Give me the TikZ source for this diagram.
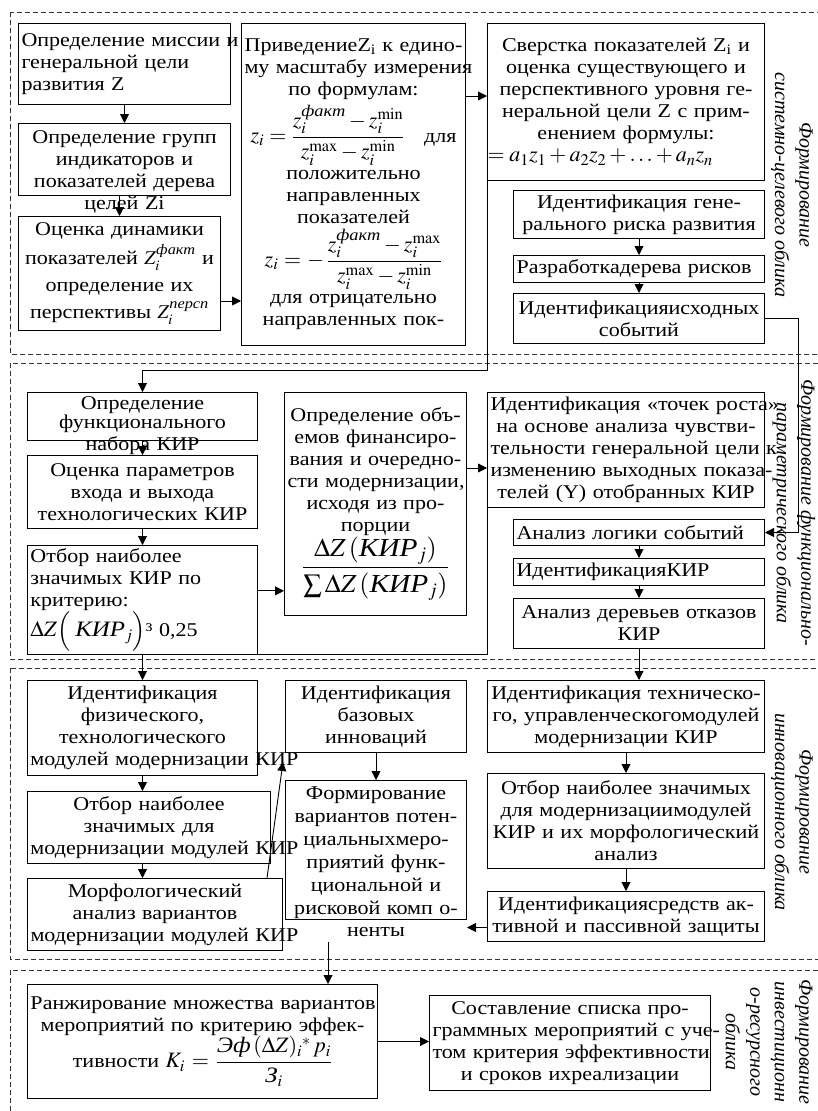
\documentclass[tikz,border=0pt]{standalone}
\usepackage{amsmath}
\usepackage{mathptmx}
\usepackage[no-math]{fontspec}
\setmainfont{Liberation Serif}[FakeStretch=1.13]
\newfontfamily\sidefam{Liberation Serif}
\usetikzlibrary{arrows.meta}

\newcommand\boxfont{\fontsize{19.5}{22}\selectfont\exhyphenpenalty=10000 \hyphenpenalty=10000 }
\newcommand\sidefont{\sidefam\fontsize{20}{24.5}\selectfont\itshape}
\newcommand\bigmath{\fontsize{22}{24}\selectfont}

\tikzset{
  blk/.style={draw, line width=1pt, inner sep=3pt, align=center, anchor=north west, font=\boxfont},
  arr/.style={line width=0.9pt, -{Triangle[length=9pt,width=9pt]}},
  zone/.style={line width=0.8pt, black!80, dash pattern=on 5pt off 3pt},
  side/.style={rotate=-90, align=center, font=\sidefont},
}

\begin{document}
\begin{tikzpicture}[x=1pt, y=-1pt]
  \useasboundingbox (0,0) rectangle (818,1111);
  \clip (0,0) rectangle (818,1111);

  % zones
  \draw[zone] (10,12) rectangle (830,354);
  \draw[zone] (10,363) rectangle (830,659);
  \draw[zone] (10,668) rectangle (830,959);
  \draw[zone] (10,970) rectangle (830,1130);

  % zone 1
  \node[blk, align=left, text width=206pt, minimum height=81pt] (mis) at (18,23)
    {Определение~миссии~и\\генеральной~цели\\развития~Z};
  \node[blk, text width=206pt, text height=17pt, text depth=49pt] (grp) at (18,123)
    {Определение~групп\\индикаторов~и\\показателей~дерева\\целей~Zi};
  \node[blk, text width=196pt, minimum height=114pt] (dyn) at (18,216)
    {Оценка~динамики\\[5pt]показателей~$Z_i^{\text{\itshape факт}}$~и\\[5pt]определение~их\\[5pt]перспективы~$Z_i^{\text{\itshape персп}}$};
  \node[blk, text width=218pt, minimum height=322pt] (nor) at (241,23)
    {ПриведениеZ\textsubscript{i}~к~едино-\\му~масштабу~измерения\\по~формулам:\\[4pt]
     {\bigmath$z_i=\dfrac{z_i^{\text{\itshape факт}}-z_i^{\mathrm{min}}}{z_i^{\mathrm{max}}-z_i^{\mathrm{min}}}$}\quad для\\[4pt]
     положительно\\направленных\\показателей\\[4pt]
     {\bigmath$z_i=-\,\dfrac{z_i^{\text{\itshape факт}}-z_i^{\mathrm{max}}}{z_i^{\mathrm{max}}-z_i^{\mathrm{min}}}$}\\[4pt]
     для~отрицательно\\направленных~пок-};
  \node[blk, text width=271pt, minimum height=157pt] (svr) at (487,23)
    {Сверстка~показателей~Z\textsubscript{i}~и\\оценка~существующего~и\\перспективного~уровня~ге-\\неральной~цели~Z~с~прим-\\енением~формулы:\\
     \makebox[\linewidth][l]{\hspace*{-3pt}\bigmath$=a_1z_1+a_2z_2+\ldots+a_nz_n$}};
  \node[blk, text width=245pt, minimum height=48pt] (gen) at (513,190)
    {Идентификация~гене-\\рального~риска~развития};
  \node[blk, align=left, text width=245pt, minimum height=27pt] (tre) at (513,255)
    {Разработкадерева~рисков};
  \node[blk, text width=245pt, minimum height=50pt] (isx) at (513,293)
    {Идентификацияисходных\\событий};

  % zone 2
  \node[blk, text width=224pt, text height=14pt, text depth=28pt] (fun) at (27,392)
    {\baselineskip=17pt Определение\\функционального\\набора~КИР};
  \node[blk, text width=224pt, minimum height=73pt] (par) at (27,455)
    {Оценка~параметров\\входа~и~выхода\\технологических~КИР};
  \node[blk, align=left, text width=224pt, minimum height=102pt] (otb) at (27,545)
    {Отбор~наиболее\\значимых~КИР~по\\критерию:\\{\bigmath$\Delta Z\Bigl(\;\text{\itshape КИР}_j\Bigr)$}³~0,25};
  \node[blk, text width=176pt, minimum height=223pt] (fin) at (284,392)
    {Определение~объ-\\емов~финансиро-\\вания~и~очередно-\\сти~модернизации,\\исходя~из~про-\\порции\\
     {\fontsize{26}{28}\selectfont$\dfrac{\Delta Z\left(\text{\itshape КИР}_j\right)}{\sum\Delta Z\left(\text{\itshape КИР}_j\right)}$}};
  \node[blk, text width=271pt, minimum height=115pt] (tch) at (487,392)
    {Идентификация~«точек~роста»\\на~основе~анализа~чувстви-\\тельности~генеральной~цели~к\\изменению~выходных~показа-\\телей~(Y)~отобранных~КИР};
  \node[blk, align=left, text width=245pt, minimum height=26pt] (log) at (513,519)
    {Анализ~логики~событий};
  \node[blk, align=left, text width=245pt, minimum height=27pt] (kir) at (513,558)
    {ИдентификацияКИР};
  \node[blk, text width=245pt, minimum height=50pt] (otk) at (513,598)
    {Анализ~деревьев~отказов\\КИР};

  % zone 3
  \node[blk, text width=224pt, minimum height=95pt] (phy) at (27,680)
    {Идентификация\\физического,\\технологического\\модулей~модернизации~КИР};
  \node[blk, text width=237pt, minimum height=72pt] (mod) at (27,791)
    {Отбор~наиболее\\значимых~для\\модернизации~модулей~КИР};
  \node[blk, text width=249pt, minimum height=72pt] (mor) at (27,878)
    {Морфологический\\анализ~вариантов\\модернизации~модулей~КИР};
  \node[blk, text width=175pt, minimum height=72pt] (bas) at (285,680)
    {Идентификация\\базовых\\инноваций};
  \node[blk, text width=175pt, text height=16pt, text depth=117pt] (frm) at (285,780)
    {\baselineskip=23pt Формирование\\вариантов~потен-\\циальныхмеро-\\приятий~функ-\\циональной~и\\рисковой~комп~о-\\ненты};
  \node[blk, text width=271pt, minimum height=72pt] (tex) at (487,680)
    {Идентификация~техническо-\\го,~управленческогомодулей\\модернизации~КИР};
  \node[blk, text width=271pt, minimum height=95pt] (sel) at (487,773)
    {Отбор~наиболее~значимых\\для~модернизациимодулей\\КИР~и~их~морфологический\\анализ};
  \node[blk, text width=271pt, minimum height=50pt] (zas) at (487,891)
    {Идентификациясредств~ак-\\тивной~и~пассивной~защиты};

  % zone 4
  \node[blk, text width=344pt, minimum height=114pt] (rnk) at (27,984)
    {Ранжирование~множества~вариантов\\мероприятий~по~критерию~эффек-\\
     тивности~{\bigmath$K_i=\dfrac{\text{\itshape Эф}\,(\Delta Z)_i{}^{*}\,p_i}{\text{\itshape З}_i}$}};
  \node[blk, text width=275pt, minimum height=95pt] (spi) at (429,995)
    {Составление~списка~про-\\граммных~мероприятий~с~уче-\\том~критерия~эффективности\\и~сроков~ихреализации};

  % side titles
  \node[side] (s1) at (792,185) {Формирование\\системно-целевого облика};
  \node[side] (s2) at (794,513) {Формирование функционально-\\параметрического облика};
  \node[side] (s3) at (792,812) {Формирование\\инновационного облика};
  \node[side] (s4) at (769,1042) {Формирование\\инвестиционн\\о-ресурсного\\облика};

  \coordinate (up) at (283,762);
  \coordinate (fout) at (328,942);

  % arrows
  \draw[arr] (mis.south) -- (grp.north);
  \draw[arr] (dyn.north |- grp.south) -- (dyn.north);
  \draw[arr] ([yshift=30pt]dyn.south east) -- ([yshift=30pt]dyn.south east -| nor.west);
  \draw[arr] ([yshift=6pt]svr.west -| nor.east) -- ([yshift=6pt]svr.west);
  \draw[arr] (gen.south) -- (tre.north);
  \draw[arr] (tre.south) -- (isx.north);
  \draw[arr] (svr.south west) -- ++(0,189) -| (fun.north);
  \draw[arr] (isx.east) -- ++(33,0) |- (log.east);
  \draw[arr] (fun.south) -- (par.north);
  \draw[arr] (par.south) -- (otb.north);
  \draw[arr] ([yshift=9pt]otb.east) -- ([yshift=9pt]otb.east -| fin.west);
  \draw[arr] ([yshift=-18pt]tch.west -| fin.east) -- ([yshift=-18pt]tch.west);
  \draw[arr] (tch.south west) |- (otb.south) -- (phy.north);
  \draw[arr] (log.south) -- (kir.north);
  \draw[arr] (kir.south) -- (otk.north);
  \draw[arr] (otk.south) -- (otk.south |- tex.north);
  \draw[arr] (phy.south) -- (phy.south |- mod.north);
  \draw[arr] (phy.south |- mod.south) -- (phy.south |- mor.north);
  \draw[arr] ([xshift=-16pt]mor.north east) -- (up);
  \draw[arr] (bas.south) -- (bas.south |- frm.north);
  \draw[arr] (tex.south) -- (sel.north);
  \draw[arr] (sel.south) -- (zas.north);
  \draw[arr] ([yshift=-11pt]zas.west) -- ([yshift=-11pt]zas.west -| frm.east);
  \draw[arr] (fout) -- (fout |- rnk.north);
  \draw[arr] (rnk.east) -- (rnk.east -| spi.west);
\end{tikzpicture}
\end{document}
